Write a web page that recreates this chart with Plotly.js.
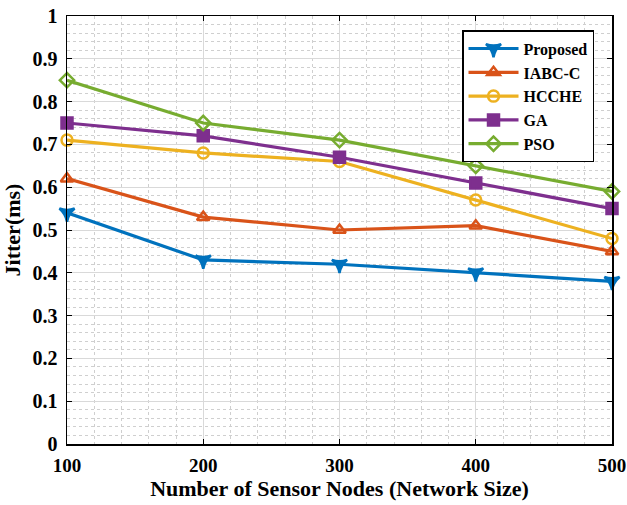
<!DOCTYPE html>
<html>
<head>
<meta charset="utf-8">
<script src="https://cdn.plot.ly/plotly-3.0.1.min.js"></script>
<style>
  html, body { margin: 0; padding: 0; background: #fff; }
  #chart { width: 627px; height: 505px; }
</style>
</head>
<body>
<div id="chart"></div>
<script>
// Network sizes (number of sensor nodes)
const nodes = [100, 200, 300, 400, 500];

// Jitter (ms) per scheme
const proposed = [0.54, 0.43, 0.42, 0.40, 0.38];
const iabcc    = [0.62, 0.53, 0.50, 0.51, 0.45];
const hcche    = [0.71, 0.68, 0.66, 0.57, 0.48];
const ga       = [0.75, 0.72, 0.67, 0.61, 0.55];
const pso      = [0.85, 0.75, 0.71, 0.65, 0.59];

const seriesNames = ['Proposed', 'IABC-C', 'HCCHE', 'GA', 'PSO'];
const xTickVals = [100, 200, 300, 400, 500];
const yTickVals = [0, 0.1, 0.2, 0.3, 0.4, 0.5, 0.6, 0.7, 0.8, 0.9, 1];
const yTickText = ['0', '0.1', '0.2', '0.3', '0.4', '0.5', '0.6', '0.7', '0.8', '0.9', '1'];

const colors = ['#0072BD', '#D95319', '#EDB120', '#7E2F8E', '#77AC30'];
const symbols = ['star-triangle-down', 'triangle-up-open', 'circle-open', 'square', 'diamond-open'];
const values = [proposed, iabcc, hcche, ga, pso];

const traces = values.map((v, i) => ({
  x: nodes,
  y: v,
  name: seriesNames[i],
  type: 'scatter',
  mode: 'lines+markers',
  cliponaxis: false,
  line: { color: colors[i], width: 3.2 },
  marker: {
    symbol: symbols[i],
    size: 11,
    color: colors[i],
    line: { color: colors[i], width: 2.5 }
  }
}));

const font = { family: '"Liberation Serif", "Times New Roman", serif', color: '#000' };

const layout = {
  width: 627,
  height: 505,
  paper_bgcolor: '#fff',
  plot_bgcolor: '#fff',
  margin: { l: 67, r: 15, t: 16, b: 61 },
  showlegend: true,
  legend: {
    x: 0.967, y: 0.967, xanchor: 'right', yanchor: 'top',
    bgcolor: '#fff', bordercolor: '#000', borderwidth: 1.5,
    font: Object.assign({}, font, { size: 16, weight: 'bold' }),
    tracegroupgap: 0, itemwidth: 50
  },
  xaxis: {
    range: [100, 500],
    tickvals: xTickVals,
    ticktext: xTickVals.map(String),
    ticks: 'inside', ticklen: 5, tickcolor: '#000',
    ticklabelstandoff: 4,
    showline: true, linecolor: '#000', linewidth: 1.5, mirror: 'ticks',
    showgrid: true, gridcolor: '#d9d9d9', gridwidth: 1,
    minor: { dtick: 20, showgrid: true, gridcolor: '#cfcfcf', griddash: 'dot', gridwidth: 1 },
    zeroline: false,
    tickfont: Object.assign({}, font, { size: 19, weight: 'bold' }),
    title: { text: 'Number of Sensor Nodes (Network Size)', font: Object.assign({}, font, { size: 22, weight: 'bold' }), standoff: 4 }
  },
  yaxis: {
    range: [0, 1],
    tickvals: yTickVals,
    ticktext: yTickText,
    ticks: 'inside', ticklen: 5, tickcolor: '#000',
    ticklabelstandoff: 4,
    showline: true, linecolor: '#000', linewidth: 1.5, mirror: 'ticks',
    showgrid: true, gridcolor: '#d9d9d9', gridwidth: 1,
    minor: { dtick: 0.02, showgrid: true, gridcolor: '#cfcfcf', griddash: 'dot', gridwidth: 1 },
    zeroline: false,
    tickfont: Object.assign({}, font, { size: 20, weight: 'bold' }),
    title: { text: 'Jitter(ms)', font: Object.assign({}, font, { size: 22, weight: 'bold' }), standoff: 6 }
  }
};

Plotly.newPlot('chart', traces, layout, { displayModeBar: false, staticPlot: true });
</script>
</body>
</html>
